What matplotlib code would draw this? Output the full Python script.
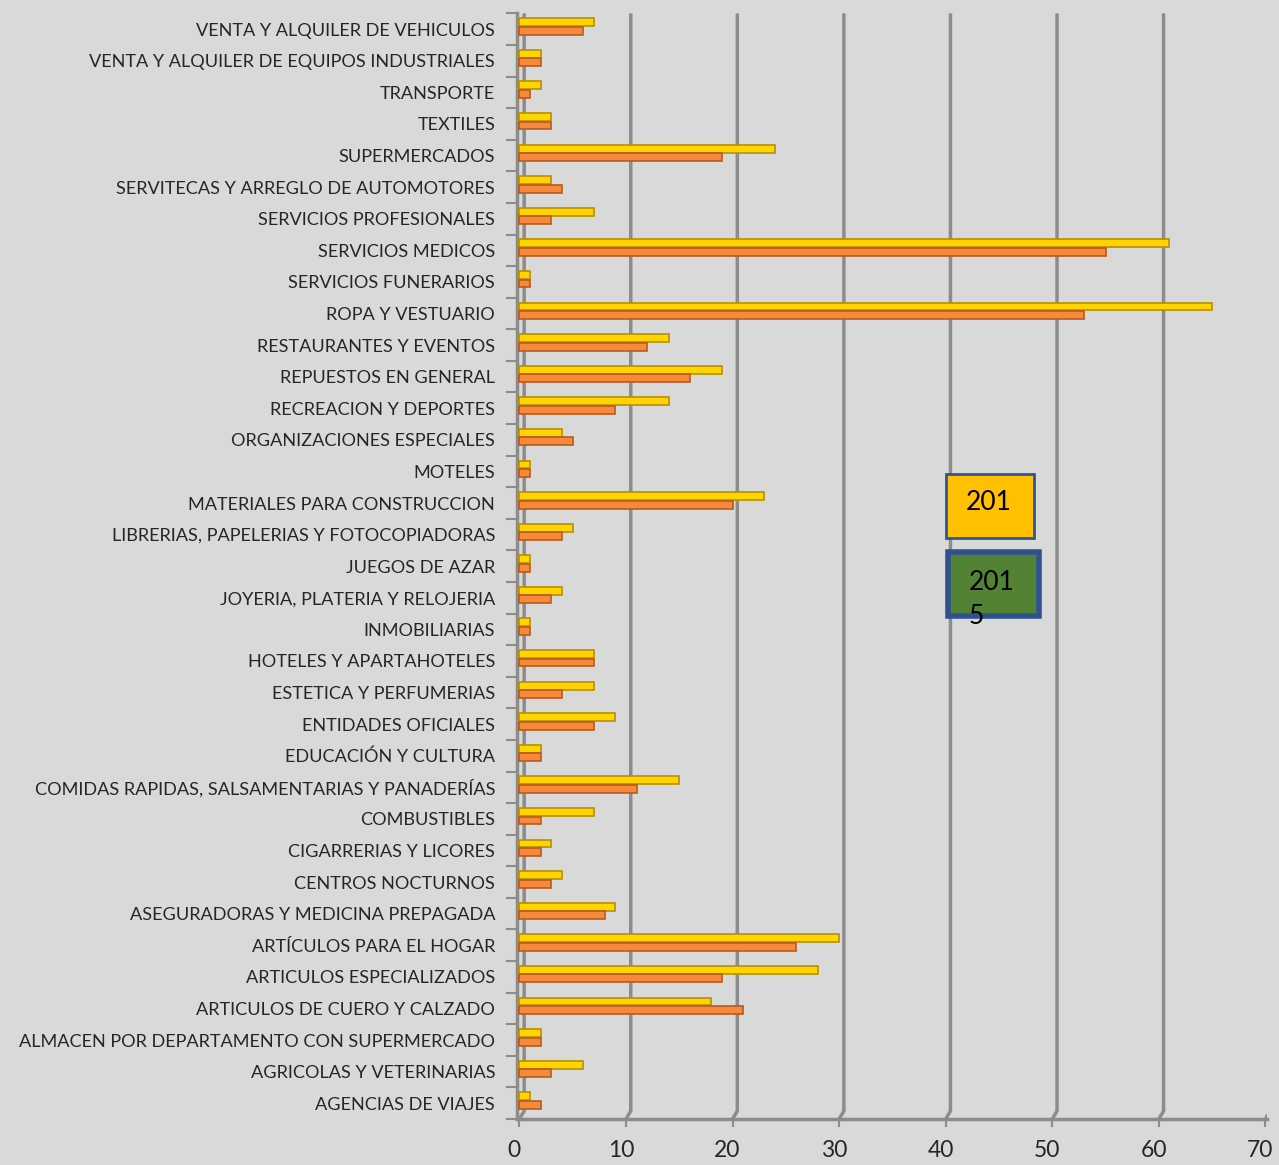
import matplotlib
matplotlib.use("Agg")
import matplotlib.pyplot as plt
import matplotlib.transforms as mtransforms
import numpy as np
from matplotlib.patches import Rectangle

# categories from top to bottom
categories = [
    "VENTA Y ALQUILER DE VEHICULOS",
    "VENTA Y ALQUILER DE EQUIPOS INDUSTRIALES",
    "TRANSPORTE",
    "TEXTILES",
    "SUPERMERCADOS",
    "SERVITECAS Y ARREGLO DE AUTOMOTORES",
    "SERVICIOS PROFESIONALES",
    "SERVICIOS MEDICOS",
    "SERVICIOS FUNERARIOS",
    "ROPA Y VESTUARIO",
    "RESTAURANTES Y EVENTOS",
    "REPUESTOS EN GENERAL",
    "RECREACION Y DEPORTES",
    "ORGANIZACIONES ESPECIALES",
    "MOTELES",
    "MATERIALES PARA CONSTRUCCION",
    "LIBRERIAS, PAPELERIAS Y FOTOCOPIADORAS",
    "JUEGOS DE AZAR",
    "JOYERIA, PLATERIA Y RELOJERIA",
    "INMOBILIARIAS",
    "HOTELES Y APARTAHOTELES",
    "ESTETICA Y PERFUMERIAS",
    "ENTIDADES OFICIALES",
    "EDUCACIÓN Y CULTURA",
    "COMIDAS RAPIDAS, SALSAMENTARIAS Y PANADERÍAS",
    "COMBUSTIBLES",
    "CIGARRERIAS Y LICORES",
    "CENTROS NOCTURNOS",
    "ASEGURADORAS Y MEDICINA PREPAGADA",
    "ARTÍCULOS PARA EL HOGAR",
    "ARTICULOS ESPECIALIZADOS",
    "ARTICULOS DE CUERO Y CALZADO",
    "ALMACEN POR DEPARTAMENTO CON SUPERMERCADO",
    "AGRICOLAS Y VETERINARIAS",
    "AGENCIAS DE VIAJES",
]
yellow_vals = [7, 2, 2, 3, 24, 3, 7, 61, 1, 65, 14, 19, 14, 4, 1, 23, 5, 1,
               4, 1, 7, 7, 9, 2, 15, 7, 3, 4, 9, 30, 28, 18, 2, 6, 1]
orange_vals = [6, 2, 1, 3, 19, 4, 3, 55, 1, 53, 12, 16, 9, 5, 1, 20, 4, 1,
               3, 1, 7, 4, 7, 2, 11, 2, 2, 3, 8, 26, 19, 21, 2, 3, 2]
xticks = [0, 10, 20, 30, 40, 50, 60, 70]

bg = "#d9d9d9"
grid_c = "#8c8c8c"
plt.rcParams['font.family'] = ['Lato', 'DejaVu Sans']

fig = plt.figure(figsize=(12.79, 11.65), dpi=100, facecolor=bg)
ax = fig.add_axes([0.404, 0.0395, 0.587, 0.949])
ax.set_facecolor(bg)

n = len(categories)
y = np.arange(n)
h = 0.25

# back wall gridlines (slight 3D offset)
for v in xticks:
    ax.plot([v + 0.45, v + 0.45, v], [-0.5, n - 0.75, n - 0.5],
            color=grid_c, lw=2.5, zorder=1, solid_capstyle='butt')

ax.barh(y - 0.22, yellow_vals, height=h, color="#ffd400",
        edgecolor="#b89000", linewidth=1.2, zorder=3)
ax.barh(y + 0.05, orange_vals, height=h, color="#f7893a",
        edgecolor="#b85a1e", linewidth=1.2, zorder=3)

ax.set_xlim(-0.25, 70.2)
ax.set_ylim(n - 0.5, -0.5)
ax.set_yticks(y)
ax.set_yticklabels(categories)
ax.set_xticks(xticks)
ax.set_xticklabels([str(v) for v in xticks])
ax.tick_params(axis='y', length=0, pad=15.5, labelsize=13.1, labelcolor="#262626")
ax.tick_params(axis='x', length=6, color=grid_c, width=1.5, pad=9,
               labelsize=16.5, labelcolor="#262626")

shift = mtransforms.ScaledTranslation(-5 / 100, 0, fig.dpi_scale_trans)
for lab in ax.get_xticklabels():
    lab.set_transform(lab.get_transform() + shift)

for s in ['top', 'right']:
    ax.spines[s].set_visible(False)
ax.spines['left'].set_color(grid_c)
ax.spines['left'].set_linewidth(2.5)
ax.spines['left'].set_position(('data', -0.25))
ax.spines['bottom'].set_color(grid_c)
ax.spines['bottom'].set_linewidth(2.5)

# category separator ticks on the left
for k in range(n + 1):
    ax.plot([-1.2, -0.25], [k - 0.5, k - 0.5], color=grid_c, lw=1.5,
            clip_on=False, zorder=2)

# text boxes
fig.patches.append(Rectangle((946 / 1279, 1 - 538 / 1165), 88 / 1279, 64 / 1165,
                             transform=fig.transFigure, facecolor="#ffc000",
                             edgecolor="#2f5597", linewidth=2, zorder=5))
fig.text(966 / 1279, 1 - 503 / 1165, "201", fontsize=19, va='center', zorder=6)
fig.patches.append(Rectangle((948 / 1279, 1 - 616 / 1165), 91 / 1279, 64 / 1165,
                             transform=fig.transFigure, facecolor="#548235",
                             edgecolor="#2f528f", linewidth=4, zorder=5))
fig.text(969 / 1279, 1 - 582 / 1165, "201", fontsize=19, va='center', zorder=6)
fig.text(969 / 1279, 1 - 617 / 1165, "5", fontsize=19, va='center', zorder=6)

fig.savefig("out.png", dpi=100, facecolor=bg)
